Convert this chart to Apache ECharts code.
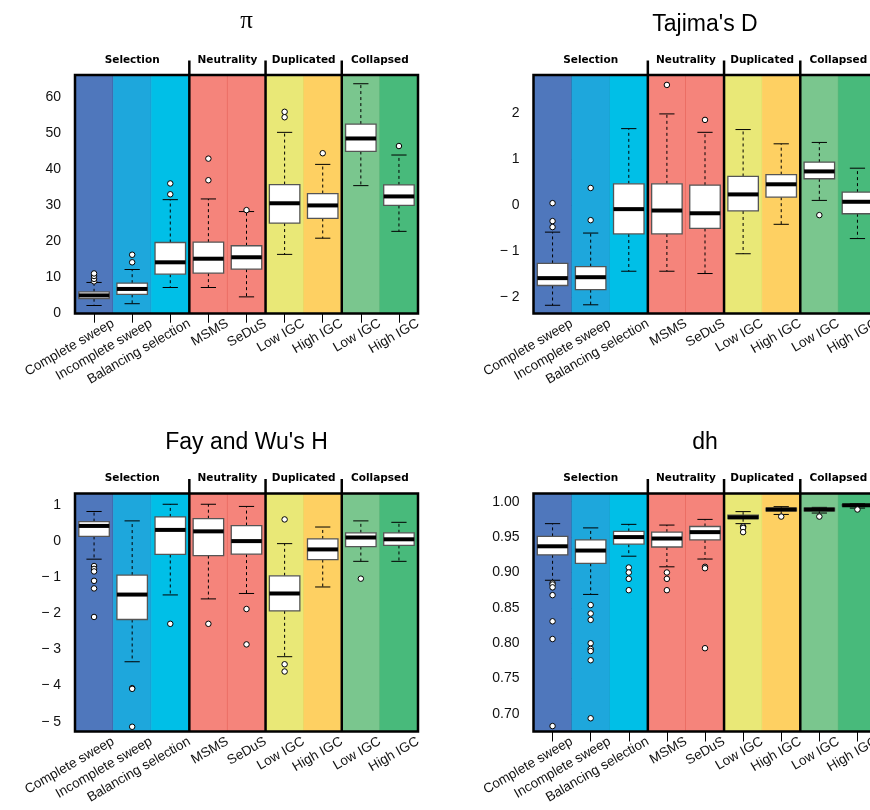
<!DOCTYPE html>
<html><head><meta charset="utf-8">
<script src="https://cdn.jsdelivr.net/npm/echarts@6/dist/echarts.min.js"></script>
<style>html,body{margin:0;padding:0;background:#fff}#c{width:870px;height:810px}</style>
</head><body><div id="c"></div>
<script>
// ---------- data ----------
const categories = ['Complete sweep','Incomplete sweep','Balancing selection','MSMS','SeDuS','Low IGC','High IGC','Low IGC','High IGC'];
const groupNames = ['Selection','Neutrality','Duplicated','Collapsed'];
const groupSizes = [3,2,2,2];
const panelTitles = ['π', "Tajima's D", "Fay and Wu's H", 'dh'];

// boxes: [whisker low, Q1, median, Q3, whisker high]
const piBoxes = [
  [2.0, 3.9, 4.8, 5.8, 8.4],
  [2.5, 5.1, 6.6, 8.2, 12.0],
  [7.0, 10.7, 14.0, 19.5, 31.4],
  [7.0, 11.0, 15.0, 19.6, 31.6],
  [4.4, 12.1, 15.4, 18.6, 28.1],
  [16.2, 24.9, 30.4, 35.6, 50.1],
  [20.7, 26.2, 29.8, 33.1, 41.2],
  [35.3, 44.8, 48.4, 52.4, 63.6],
  [22.6, 29.8, 32.3, 35.5, 43.8]
];
const piOutliers = [[0,8.7],[0,9.4],[0,10.2],[0,10.9],[1,14.0],[1,16.1],[2,32.9],[2,35.9],[3,36.8],[3,42.8],[4,28.5],[5,54.3],[5,55.8],[6,44.3],[8,46.3]];

const tajimaBoxes = [
  [-2.18, -1.75, -1.59, -1.27, -0.59],
  [-2.17, -1.84, -1.57, -1.34, -0.61],
  [-1.44, -0.63, -0.09, 0.46, 1.66],
  [-1.44, -0.63, -0.12, 0.46, 1.98],
  [-1.49, -0.51, -0.18, 0.43, 1.58],
  [-1.06, -0.13, 0.23, 0.62, 1.64],
  [-0.42, 0.17, 0.45, 0.66, 1.33],
  [0.10, 0.57, 0.73, 0.93, 1.36],
  [-0.73, -0.19, 0.07, 0.28, 0.80]
];
const tajimaOutliers = [[0,0.04],[0,-0.35],[0,-0.48],[1,0.37],[1,-0.33],[3,2.61],[4,1.85],[7,-0.22]];

const fayBoxes = [
  [-0.50, 0.13, 0.42, 0.54, 0.82],
  [-3.34, -2.17, -1.48, -0.94, 0.56],
  [-1.49, -0.37, 0.31, 0.67, 1.02],
  [-1.60, -0.40, 0.27, 0.62, 1.02],
  [-1.45, -0.36, 0.00, 0.43, 0.96],
  [-3.20, -1.93, -1.45, -0.96, -0.07],
  [-1.27, -0.51, -0.23, 0.06, 0.39],
  [-0.56, -0.15, 0.10, 0.23, 0.56],
  [-0.56, -0.12, 0.05, 0.23, 0.52]
];
const fayOutliers = [[0,-0.69],[0,-0.77],[0,-0.84],[0,-1.10],[0,-1.31],[0,-2.10],[1,-4.07],[1,-4.09],[1,-5.14],[2,-2.29],[3,-2.29],[4,-1.88],[4,-2.86],[5,0.60],[5,-3.41],[5,-3.61],[7,-1.04]];

const dhBoxes = [
  [0.889, 0.925, 0.937, 0.951, 0.969],
  [0.869, 0.913, 0.931, 0.946, 0.963],
  [0.923, 0.940, 0.950, 0.958, 0.968],
  [0.908, 0.936, 0.948, 0.957, 0.967],
  [0.919, 0.946, 0.957, 0.965, 0.975],
  [0.969, 0.976, 0.978, 0.981, 0.986],
  [0.982, 0.987, 0.989, 0.991, 0.993],
  [0.984, 0.987, 0.989, 0.991, 0.992],
  [0.991, 0.994, 0.995, 0.996, 0.997]
];
const dhOutliers = [[0,0.885],[0,0.883],[0,0.879],[0,0.868],[0,0.831],[0,0.806],[0,0.683],[1,0.854],[1,0.842],[1,0.833],[1,0.800],[1,0.792],[1,0.789],[1,0.776],[1,0.694],[2,0.907],[2,0.900],[2,0.891],[2,0.875],[3,0.900],[3,0.891],[3,0.875],[4,0.908],[4,0.906],[4,0.793],[5,0.965],[5,0.963],[5,0.957],[6,0.979],[7,0.979],[8,0.989]];

const piTicks = [0,10,20,30,40,50,60];
const tajimaTicks = [-2,-1,0,1,2];
const fayTicks = [-5,-4,-3,-2,-1,0,1];
const dhTicks = [0.70,0.75,0.80,0.85,0.90,0.95,1.00];

// ---------- styling ----------
const bandColors = ['#4F77BC','#1EA7DC','#00BFE7','#F5847B','#F5847B','#E9E877','#FED062','#7AC68E','#48BA7B'];
const bandLineColors = ['#2F5C9E','#1391C4','#00A8D0','#E0564C','#E0564C','#E2D85C','#F0BE48','#4FAE6E','#3AA56A'];

const panels = [
  {boxes: piBoxes, outliers: piOutliers, ticks: piTicks, min: -0.22, max: 66.03, dec: 0},
  {boxes: tajimaBoxes, outliers: tajimaOutliers, ticks: tajimaTicks, min: -2.359, max: 2.826, dec: 0},
  {boxes: fayBoxes, outliers: fayOutliers, ticks: fayTicks, min: -5.271, max: 1.318, dec: 0},
  {boxes: dhBoxes, outliers: dhOutliers, ticks: dhTicks, min: 0.6753, max: 1.0116, dec: 2}
];
const gridPos = [
  {left: 75, top: 75, width: 343, height: 238.5},
  {left: 533.5, top: 75, width: 343, height: 238.5},
  {left: 75, top: 493.5, width: 343, height: 238},
  {left: 533.5, top: 493.5, width: 343, height: 238}
];
const titleTops = [9, 13, 431, 431];
const labelShift = 0.5;
const FONT = 'Liberation Sans, Arial, sans-serif';

function groupEndSet(){
  const s = new Set(); let c = 0;
  groupSizes.forEach(n => { c += n; s.add(c - 1); });
  return s;
}
const groupEnds = groupEndSet();

function renderBand(params, api){
  const i = params.dataIndex;
  const cs = params.coordSys;
  const bw = api.size([1, 0])[0];
  const cx = api.coord([i, api.value(1)])[0];
  const ch = [{type:'rect', shape:{x: cx - bw/2, y: cs.y, width: bw, height: cs.height}, style:{fill: bandColors[i]}}];
  if (i < categories.length - 1 && !groupEnds.has(i)) {
    ch.push({type:'line', shape:{x1: cx + bw/2, y1: cs.y, x2: cx + bw/2, y2: cs.y + cs.height}, style:{stroke: bandLineColors[i], lineWidth: 1}});
  }
  return {type:'group', children: ch};
}

function renderBox(params, api){
  const i = api.value(0);
  const bw = api.size([1, 0])[0];
  const p = k => api.coord([i, api.value(k)]);
  const x = p(3)[0];
  const yLo = p(1)[1], yQ1 = p(2)[1], yMed = p(3)[1], yQ3 = p(4)[1], yHi = p(5)[1];
  const w = bw * 0.8, cw = bw * 0.4;
  const dash = {stroke:'#000', lineWidth:1, lineDash:[3,3]};
  const solid = {stroke:'#000', lineWidth:1};
  return {type:'group', children:[
    {type:'line', shape:{x1:x, y1:yQ3, x2:x, y2:yHi}, style:dash},
    {type:'line', shape:{x1:x, y1:yQ1, x2:x, y2:yLo}, style:dash},
    {type:'line', shape:{x1:x - cw/2, y1:yHi, x2:x + cw/2, y2:yHi}, style:solid},
    {type:'line', shape:{x1:x - cw/2, y1:yLo, x2:x + cw/2, y2:yLo}, style:solid},
    {type:'rect', shape:{x:x - w/2, y:yQ3, width:w, height:yQ1 - yQ3}, style:{fill:'#fff', stroke:'#555', lineWidth:1.3}},
    {type:'line', shape:{x1:x - w/2, y1:yMed, x2:x + w/2, y2:yMed}, style:{stroke:'#000', lineWidth:4}}
  ]};
}

function renderFrame(params, api){
  const cs = params.coordSys;
  const bw = api.size([1, 0])[0];
  const ch = [];
  let start = 0;
  groupNames.forEach((g, gi) => {
    const n = groupSizes[gi];
    const x0 = cs.x + start * bw, x1 = cs.x + (start + n) * bw;
    ch.push({type:'text', style:{text: g, x: (x0 + x1) / 2, y: cs.y - 15, align:'center', verticalAlign:'middle', font:'bold 10.5px "DejaVu Sans"', fill:'#000'}});
    if (gi > 0) ch.push({type:'line', shape:{x1:x0, y1:cs.y - 14.5, x2:x0, y2:cs.y + cs.height}, style:{stroke:'#000', lineWidth:2.5}});
    start += n;
  });
  ch.push({type:'rect', shape:{x:cs.x, y:cs.y, width:cs.width, height:cs.height}, style:{fill:'none', stroke:'#000', lineWidth:2.5}});
  return {type:'group', children: ch};
}

function fmt(dec){
  return v => {
    const s = Math.abs(v).toFixed(dec);
    return v < -1e-9 ? '− ' + s : s;
  };
}

const option = {animation:false, backgroundColor:'#fff', title:[], grid:[], xAxis:[], yAxis:[], series:[]};
panels.forEach((pn, p) => {
  const g = gridPos[p];
  option.grid.push({left:g.left, top:g.top, width:g.width, height:g.height, containLabel:false, outerBoundsMode:'none'});
  option.title.push({text: panelTitles[p], left: g.left + g.width/2, top: titleTops[p], textAlign:'center', padding:0,
    textStyle:{fontSize: p === 0 ? 25 : 23, fontWeight:'normal', color:'#000', fontFamily: p === 0 ? 'Liberation Serif, serif' : FONT}});
  option.xAxis.push({type:'category', gridIndex:p, data:categories, boundaryGap:true, position:'bottom',
    axisLine:{show:false}, axisLabel:{show:false, interval:0},
    axisTick:{show:true, alignWithLabel:true, interval:0, length:10, lineStyle:{color:'#000', width:1}},
    splitLine:{show:false}});
  option.xAxis.push({type:'value', gridIndex:p, position:'bottom', min:-0.5 - labelShift, max:categories.length - 0.5 - labelShift,
    axisLine:{show:false}, axisTick:{show:false}, splitLine:{show:false},
    axisLabel:{customValues: categories.map((c, i) => i), rotate:30, margin:9, fontSize:13.5, color:'#111', fontFamily:FONT,
      formatter: v => categories[Math.round(v)]}});
  option.yAxis.push({type:'value', gridIndex:p, min:pn.min, max:pn.max,
    axisLine:{show:false}, splitLine:{show:false},
    axisTick:{show:true, length:11, customValues:pn.ticks, lineStyle:{color:'#000', width:1}},
    axisLabel:{customValues:pn.ticks, margin:14, fontSize:14, color:'#111', fontFamily:FONT, formatter: fmt(pn.dec)}});
  const yMid = (pn.min + pn.max) / 2;
  option.series.push({type:'custom', xAxisIndex:2*p, yAxisIndex:p, z:1, silent:true,
    data: categories.map((c, i) => [i, yMid]), renderItem: renderBand});
  option.series.push({type:'custom', xAxisIndex:2*p, yAxisIndex:p, z:3, silent:true,
    encode:{x:0, y:[1,2,3,4,5]},
    data: pn.boxes.map((b, i) => [i].concat(b)), renderItem: renderBox});
  option.series.push({type:'scatter', xAxisIndex:2*p, yAxisIndex:p, z:4, silent:true,
    symbol:'circle', symbolSize:5.5, itemStyle:{color:'#fff', borderColor:'#000', borderWidth:1, opacity:1},
    data: pn.outliers});
  option.series.push({type:'custom', xAxisIndex:2*p, yAxisIndex:p, z:5, silent:true,
    data: [[0, yMid]], renderItem: renderFrame});
});

const chart = echarts.init(document.getElementById('c'), null, {renderer:'canvas'});
chart.setOption(option);
</script></body></html>
